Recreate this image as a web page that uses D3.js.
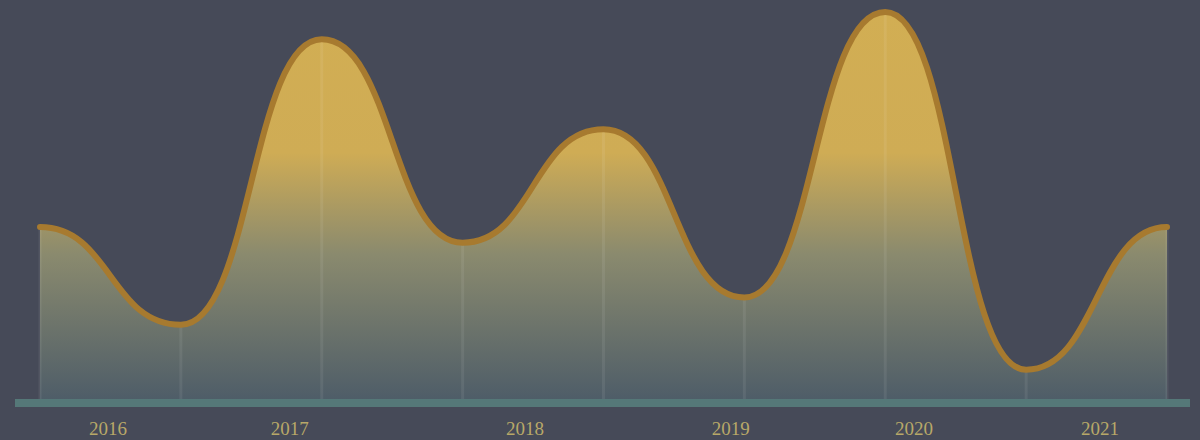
<!DOCTYPE html>
<html>
<head>
<meta charset="utf-8">
<script src="https://cdn.jsdelivr.net/npm/d3@7"></script>
<style>
  html, body { margin: 0; padding: 0; background: #464a58; }
  svg { display: block; }
</style>
</head>
<body>
<div id="viz"></div>
<script>
// values, one per point (evenly spaced)
const values = [45, 20, 93, 41, 70, 27, 100, 8.5, 45];
// year labels and where they sit, in point-index units
const yearLabels = ['2016', '2017', '2018', '2019', '2020', '2021'];
const yearPositions = [0.48, 1.77, 3.44, 4.9, 6.2, 7.52];

const width = 1200;
const height = 440;
const baseY = 403;

const svg = d3.select('#viz')
  .append('svg')
  .attr('width', width)
  .attr('height', height);

const x = d3.scaleLinear()
  .domain([0, values.length - 1])
  .range([40, 1167]);

const y = d3.scaleLinear()
  .domain([0, 100])
  .range([baseY, 12]);

// fill gradient: gold on top, slate at the bottom
const grad = svg.append('defs')
  .append('linearGradient')
  .attr('id', 'areaFill')
  .attr('gradientUnits', 'userSpaceOnUse')
  .attr('x1', 0).attr('y1', y(100))
  .attr('x2', 0).attr('y2', baseY);
grad.append('stop').attr('offset', '0%').attr('stop-color', '#d2ae53');
grad.append('stop').attr('offset', '36%').attr('stop-color', '#cfac55');
grad.append('stop').attr('offset', '62%').attr('stop-color', '#8a8a6e');
grad.append('stop').attr('offset', '100%').attr('stop-color', '#4d5c68');

const area = d3.area()
  .x((d, i) => x(i))
  .y0(baseY)
  .y1(d => y(d))
  .curve(d3.curveBumpX);

const line = d3.line()
  .x((d, i) => x(i))
  .y(d => y(d))
  .curve(d3.curveBumpX);

svg.append('path')
  .datum(values)
  .attr('d', area)
  .attr('fill', 'url(#areaFill)');

// faint vertical guides at every point
svg.selectAll('.guide')
  .data(values)
  .enter()
  .append('line')
  .classed('guide', true)
  .attr('x1', (d, i) => x(i))
  .attr('x2', (d, i) => x(i))
  .attr('y1', d => y(d))
  .attr('y2', baseY)
  .attr('stroke', '#ffffff')
  .attr('stroke-opacity', 0.07)
  .attr('stroke-width', 3);

svg.append('path')
  .datum(values)
  .attr('d', line)
  .attr('fill', 'none')
  .attr('stroke', '#a77a2f')
  .attr('stroke-width', 6)
  .attr('stroke-linecap', 'round');

// baseline bar
svg.append('rect')
  .attr('x', 15)
  .attr('y', baseY - 4)
  .attr('width', 1175)
  .attr('height', 8)
  .attr('fill', '#557878');

const xAxis = d3.axisBottom(x)
  .tickValues(yearPositions)
  .tickFormat((d, i) => yearLabels[i])
  .tickSize(0)
  .tickPadding(0);

const axisG = svg.append('g')
  .attr('transform', `translate(0, 421)`)
  .call(xAxis);
axisG.select('.domain').remove();
axisG.selectAll('text')
  .attr('fill', '#b8a868')
  .attr('font-family', '"Liberation Serif", serif')
  .attr('font-size', 19);
</script>
</body>
</html>
